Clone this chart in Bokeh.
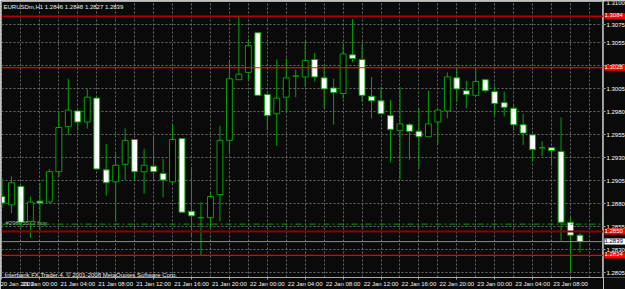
from bokeh.plotting import figure
from bokeh.layouts import row
from bokeh.models import (Range1d, LinearAxis, FixedTicker, Span, Label, Grid,
                          AllLabels, NumeralTickFormatter)
from bokeh.embed import file_html
from bokeh.resources import INLINE

# ---------------- data ----------------
chart_title = "EURUSDm,H1  1.2846 1.2848 1.2827 1.2839"
footer_text = "Interbank FX Trader 4, \u00a9 2001-2008 MetaQuotes Software Corp."
order_text = "#29865512 buy"

# hourly bars, 20 Jan 2009 20:00 ... 23 Jan 2009 09:00
opens = [1.2888, 1.2879, 1.2899, 1.2861, 1.2883, 1.2882, 1.2915, 1.2964, 1.2981, 1.2969,
         1.2995, 1.2917, 1.2904, 1.2923, 1.2950, 1.2915, 1.2921, 1.2913, 1.2904, 1.2951,
         1.2872, 1.2865, 1.2865, 1.2890, 1.2949, 1.3015, 1.3023, 1.3066, 1.2999, 1.2978,
         1.2996, 1.3019, 1.3018, 1.3037, 1.3017, 1.3006, 1.3000, 1.3042, 1.3037, 1.2997,
         1.2992, 1.2976, 1.2960, 1.2966, 1.2959, 1.2953, 1.2969, 1.2981, 1.3017, 1.3003,
         1.2998, 1.3015, 1.3002, 1.2990, 1.2984, 1.2966, 1.2955, 1.2941, 1.2941, 1.2937,
         1.2860, 1.2846]
highs = [1.2908, 1.2910, 1.2900, 1.2888, 1.2903, 1.2918, 1.2980, 1.3016, 1.2982, 1.3005,
         1.2996, 1.2945, 1.2935, 1.2962, 1.2950, 1.2940, 1.2953, 1.2929, 1.2966, 1.2951,
         1.2920, 1.2882, 1.2892, 1.2965, 1.3036, 1.3084, 1.3059, 1.3066, 1.2999, 1.3037,
         1.3038, 1.3026, 1.3057, 1.3044, 1.3030, 1.3016, 1.3053, 1.3081, 1.3053, 1.3018,
         1.3007, 1.2993, 1.3007, 1.2968, 1.2984, 1.3003, 1.2982, 1.3023, 1.3027, 1.3014,
         1.3027, 1.3015, 1.3008, 1.3002, 1.2988, 1.2978, 1.2955, 1.2948, 1.2941, 1.2974,
         1.2865, 1.2848]
lows = [1.2876, 1.2870, 1.2854, 1.2843, 1.2849, 1.2881, 1.2910, 1.2955, 1.2960, 1.2962,
        1.2918, 1.2889, 1.2861, 1.2906, 1.2906, 1.2891, 1.2905, 1.2887, 1.2902, 1.2871,
        1.2845, 1.2824, 1.2854, 1.2861, 1.2934, 1.3015, 1.3014, 1.2998, 1.2960, 1.2943,
        1.2980, 1.2996, 1.3007, 1.3013, 1.2984, 1.2966, 1.2994, 1.3034, 1.2991, 1.2973,
        1.2978, 1.2925, 1.2906, 1.2928, 1.2918, 1.2953, 1.2945, 1.2973, 1.2991, 1.2984,
        1.2998, 1.3001, 1.2976, 1.2975, 1.2960, 1.2944, 1.2926, 1.2932, 1.2921, 1.2840,
        1.2806, 1.2827]
closes = [1.2881, 1.2903, 1.2860, 1.2882, 1.2881, 1.2915, 1.2963, 1.2982, 1.2969, 1.2996,
          1.2918, 1.2903, 1.2922, 1.2949, 1.2915, 1.2922, 1.2915, 1.2906, 1.2950, 1.2871,
          1.2867, 1.2865, 1.2888, 1.2949, 1.3016, 1.3021, 1.3052, 1.2998, 1.2976, 1.2995,
          1.3017, 1.3019, 1.3036, 1.3018, 1.3005, 1.3001, 1.3043, 1.3038, 1.2998, 1.2992,
          1.2978, 1.2961, 1.2967, 1.2959, 1.2953, 1.2967, 1.2982, 1.3018, 1.3005, 1.2999,
          1.3013, 1.3003, 1.2989, 1.2985, 1.2966, 1.2957, 1.2939, 1.2941, 1.2938, 1.2860,
          1.2846, 1.2839]

time_label_bars = [0, 4, 8, 12, 16, 20, 24, 28, 32, 36, 40, 44, 48, 52, 56, 60]
time_labels = ["20 Jan 2009", "21 Jan 00:00", "21 Jan 04:00", "21 Jan 08:00",
               "21 Jan 12:00", "21 Jan 16:00", "21 Jan 20:00", "22 Jan 00:00",
               "22 Jan 04:00", "22 Jan 08:00", "22 Jan 12:00", "22 Jan 16:00",
               "22 Jan 20:00", "23 Jan 00:00", "23 Jan 04:00", "23 Jan 08:00"]
price_ticks = [1.3100, 1.3075, 1.3055, 1.3030, 1.3005, 1.2980, 1.2955, 1.2930,
               1.2905, 1.2880, 1.2855, 1.2830, 1.2805]

red_levels = [1.3084, 1.3028, 1.2850, 1.2824]
bid_level = 1.2839
order_level = 1.2858

# ---------------- style ----------------
BG = "#0a0a0a"
GREEN = "#00a400"
AX = "#a8a8a8"
TXT = "#f0f0f0"
GRID = "#6a6a6a"
FONT = "Liberation Sans"
FS = "6px"
grid_bars = list(range(0, 64, 2))

bars = list(range(len(opens)))
tops = [max(o, c) for o, c in zip(opens, closes)]
bottoms = [min(o, c) for o, c in zip(opens, closes)]
fills = ["#ffffff" if c < o else "#000000" for o, c in zip(opens, closes)]

yr = Range1d(1.2800, 1.3100)

# main chart (frame x 1..603, y 1..278)
p = figure(width=603, height=289, x_range=Range1d(-0.05, 63.48), y_range=yr,
           output_backend="svg", toolbar_location=None,
           x_axis_location=None, y_axis_location=None,
           min_border_left=1, min_border_top=1, min_border_right=0,
           min_border_bottom=11, background_fill_color=BG, border_fill_color=BG,
           outline_line_color=AX, outline_line_width=1)
p.xgrid.visible = False
p.ygrid.visible = False

xaxis = LinearAxis(ticker=FixedTicker(ticks=time_label_bars),
                   major_label_overrides={b: t for b, t in zip(time_label_bars, time_labels)})
xaxis.axis_line_color = AX
xaxis.major_tick_line_color = AX
xaxis.major_tick_out = 2
xaxis.major_tick_in = 0
xaxis.minor_tick_out = 0
xaxis.minor_tick_in = 0
xaxis.major_label_text_color = TXT
xaxis.major_label_text_font = FONT
xaxis.major_label_text_font_size = FS
xaxis.major_label_standoff = 1
xaxis.major_label_policy = AllLabels()
xaxis.major_label_text_align = "left"
p.add_layout(xaxis, "below")

p.add_layout(Grid(dimension=0, ticker=FixedTicker(ticks=grid_bars),
                  grid_line_color=GRID, grid_line_dash="2 2", grid_line_width=1))
p.add_layout(Grid(dimension=1, ticker=FixedTicker(ticks=price_ticks),
                  grid_line_color=GRID, grid_line_dash="2 2", grid_line_width=1))

p.add_layout(Label(x=4, y=order_level, x_units="screen", y_units="data", y_offset=1,
                   text=order_text, text_color="#b8b8b8", text_font=FONT,
                   text_font_size=FS, text_baseline="alphabetic", level="underlay"))

p.segment(x0=bars, y0=lows, x1=bars, y1=highs, line_color=GREEN, line_width=1)
p.vbar(x=bars, top=tops, bottom=bottoms, width=0.62, fill_color=fills,
       line_color=GREEN, line_width=1)

red_styles = [("#b00000", 1.5), ("#ff1010", 1.2), ("#8b0000", 2), ("#e00000", 1.2)]
for lvl, (col, w) in zip(red_levels, red_styles):
    p.add_layout(Span(location=lvl, dimension="width", line_color=col, line_width=w))
p.add_layout(Span(location=bid_level, dimension="width", line_color="#8c8c8c", line_width=1))
p.add_layout(Span(location=order_level, dimension="width", line_color="#00a000",
                  line_width=1, line_dash="6 3 2 3"))

p.add_layout(Label(x=2, y=274, x_units="screen", y_units="screen", text=chart_title,
                   text_color=TXT, text_font=FONT, text_font_size=FS, text_baseline="top"))
p.add_layout(Label(x=3, y=2.5, x_units="screen", y_units="screen", text=footer_text,
                   text_color=TXT, text_font=FONT, text_font_size=FS,
                   text_baseline="alphabetic"))

# price scale strip (x 603..625), sharing the price range
s = figure(width=22, height=289, x_range=Range1d(0, 22), y_range=yr,
           output_backend="svg", toolbar_location=None,
           x_axis_location=None, y_axis_location=None,
           min_border_left=0, min_border_top=1, min_border_right=0,
           min_border_bottom=11, background_fill_color=BG, border_fill_color=BG,
           outline_line_color=None)
s.xgrid.visible = False
s.ygrid.visible = False
yaxis = LinearAxis(ticker=FixedTicker(ticks=price_ticks), fixed_location=0,
                   formatter=NumeralTickFormatter(format="0.0000"))
yaxis.axis_line_color = AX
yaxis.major_tick_line_color = AX
yaxis.major_tick_out = 2
yaxis.major_tick_in = 0
yaxis.minor_tick_out = 0
yaxis.minor_tick_in = 0
yaxis.major_label_text_color = "#ffffff"
yaxis.major_label_text_font = FONT
yaxis.major_label_text_font_size = FS
yaxis.major_label_standoff = 1
yaxis.major_label_policy = AllLabels()
s.add_layout(yaxis, "right")

for lvl in red_levels:
    s.add_layout(Label(x=1, y=lvl, x_units="screen", y_units="data",
                       text=f"{lvl:.4f}", text_color="#ffffff", text_font=FONT,
                       text_font_size=FS, text_baseline="middle",
                       background_fill_color="#ff0000", padding=(0, 3, 0, 2)))
s.add_layout(Label(x=1, y=bid_level, x_units="screen", y_units="data",
                   text=f"{bid_level:.4f}", text_color="#000000", text_font=FONT,
                   text_font_size=FS, text_baseline="middle",
                   background_fill_color="#ffffff", padding=(0, 3, 0, 2)))

layout = row(p, s, spacing=0)
open("out.html", "w").write(file_html(layout, INLINE))
